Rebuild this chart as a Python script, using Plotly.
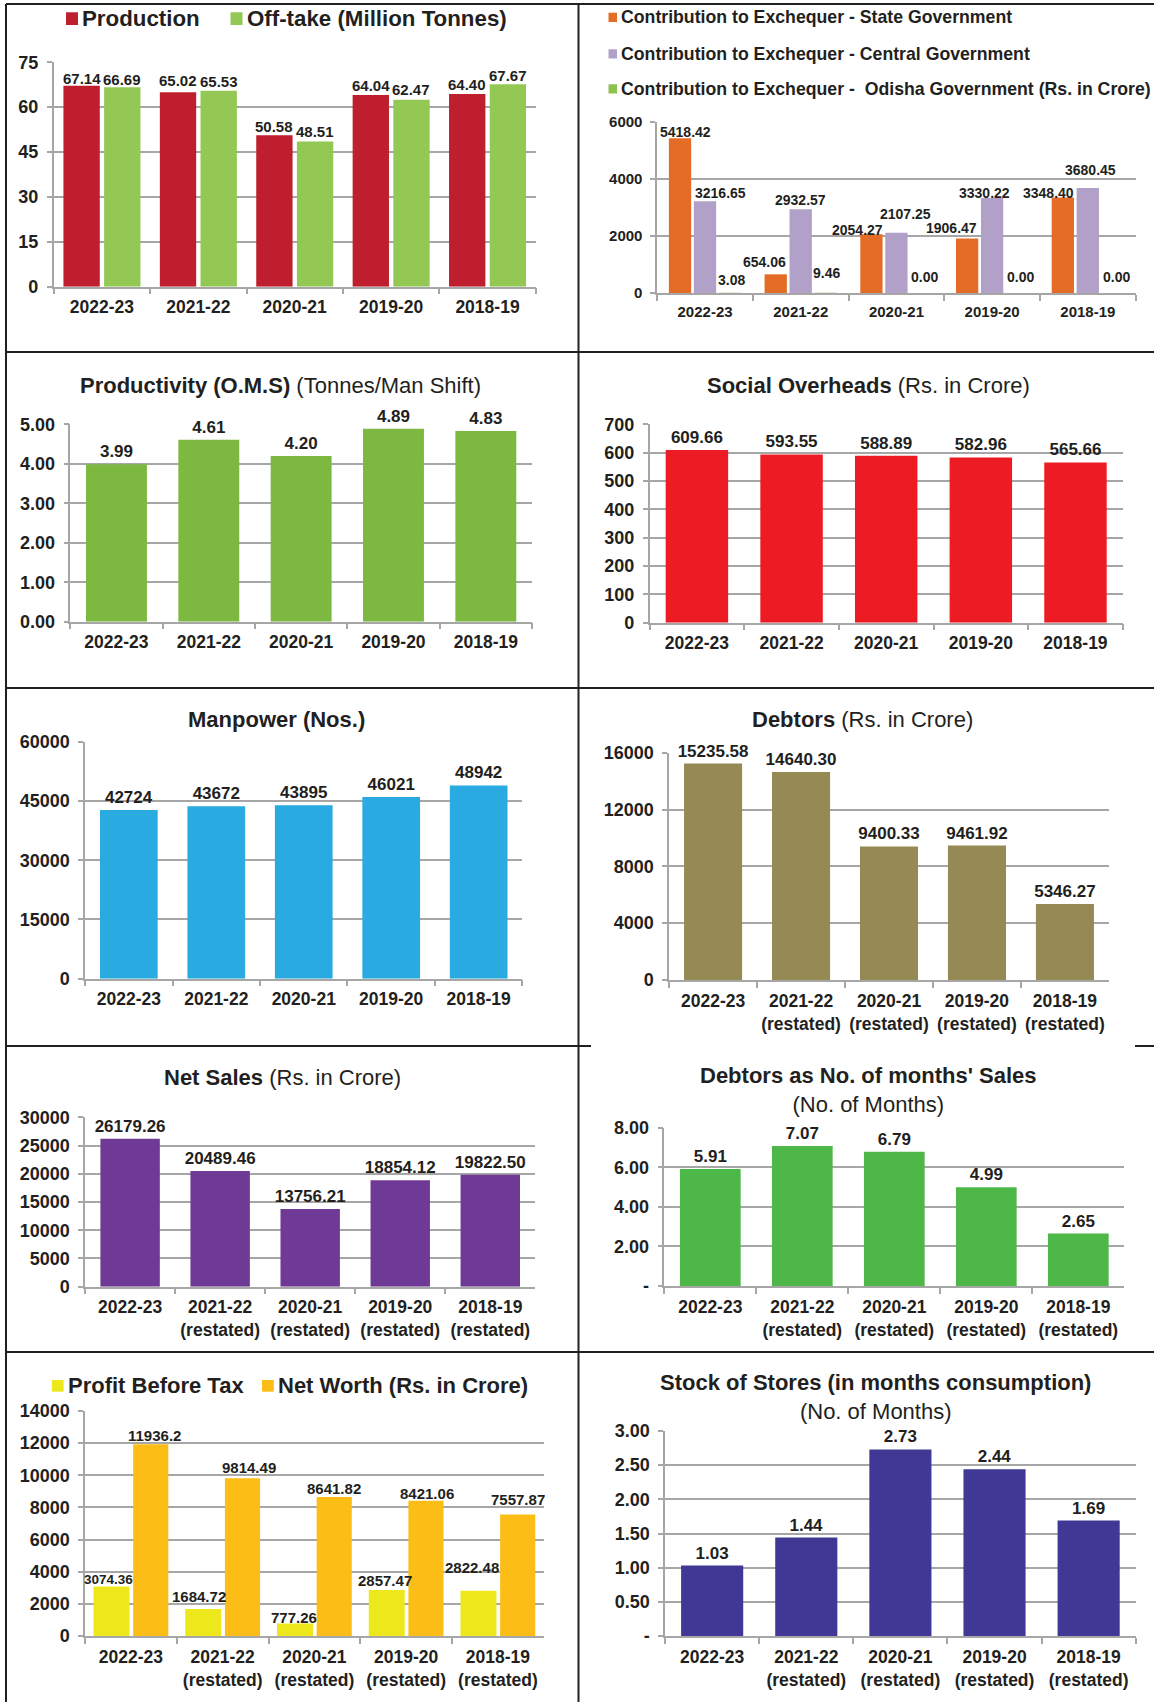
import plotly.graph_objects as go

W, H = 1154, 1702

# ---------------- data ----------------
years = ["2022-23", "2021-22", "2020-21", "2019-20", "2018-19"]
years_restated = ["2022-23", "2021-22<br>(restated)", "2020-21<br>(restated)",
                  "2019-20<br>(restated)", "2018-19<br>(restated)"]

production = [67.14, 65.02, 50.58, 64.04, 64.40]
offtake = [66.69, 65.53, 48.51, 62.47, 67.67]
contrib_state = [5418.42, 654.06, 2054.27, 1906.47, 3348.40]
contrib_central = [3216.65, 2932.57, 2107.25, 3330.22, 3680.45]
contrib_odisha = [3.08, 9.46, 0.00, 0.00, 0.00]
productivity = [3.99, 4.61, 4.20, 4.89, 4.83]
social_overheads = [609.66, 593.55, 588.89, 582.96, 565.66]
manpower = [42724, 43672, 43895, 46021, 48942]
debtors = [15235.58, 14640.30, 9400.33, 9461.92, 5346.27]
net_sales = [26179.26, 20489.46, 13756.21, 18854.12, 19822.50]
debtors_months = [5.91, 7.07, 6.79, 4.99, 2.65]
profit_before_tax = [3074.36, 1684.72, 777.26, 2857.47, 2822.48]
net_worth = [11936.2, 9814.49, 8641.82, 8421.06, 7557.87]
stock_of_stores = [1.03, 1.44, 2.73, 2.44, 1.69]

months_tickvals = [0, 2, 4, 6, 8]
months_ticktext = ["-", "2.00", "4.00", "6.00", "8.00"]
stock_tickvals = [0, 0.5, 1, 1.5, 2, 2.5, 3]
stock_ticktext = ["-", "0.50", "1.00", "1.50", "2.00", "2.50", "3.00"]

# ---------------- style ----------------
TXT = "#231F20"
GRID = "#A6A6A6"
FONT = "Liberation Sans, Arial, Helvetica, sans-serif"

C_PROD, C_OFF = "#BE1E2D", "#92C853"
C_STATE, C_CENTRAL, C_ODISHA = "#E46C26", "#B1A0C7", "#8DC04F"
C_PBT, C_NW = "#EDE81C", "#FCBE16"


def f2(vals):
    return [f"{v:.2f}" for v in vals]


def px_x(v):
    return v / W


def px_y(v):
    return 1 - v / H


# panel geometry in pixels (layout only)
panels = [
    dict(x0=53.7, x1=535.7, yt=62.3, yb=286.7, ymax=75, dtick=15, fmt="d", tfs=18, xfs=17.5),
    dict(x0=657.2, x1=1135.7, yt=121.7, yb=293.0, ymax=6000, dtick=2000, fmt="d", tfs=15, xfs=15),
    dict(x0=70.3, x1=532.0, yt=424.3, yb=621.7, ymax=5, dtick=1, fmt=".2f", tfs=18, xfs=17.5),
    dict(x0=649.6, x1=1122.8, yt=424.3, yb=622.7, ymax=700, dtick=100, fmt="d", tfs=18, xfs=17.5),
    dict(x0=85.1, x1=522.4, yt=741.7, yb=978.7, ymax=60000, dtick=15000, fmt="d", tfs=18, xfs=17.5),
    dict(x0=669.1, x1=1108.9, yt=752.7, yb=980.0, ymax=16000, dtick=4000, fmt="d", tfs=18, xfs=17.5),
    dict(x0=85.1, x1=535.3, yt=1117.3, yb=1286.7, ymax=30000, dtick=5000, fmt="d", tfs=18, xfs=17.5),
    dict(x0=664.3, x1=1124.3, yt=1127.7, yb=1286.0, ymax=8, tickvals=months_tickvals,
         ticktext=months_ticktext, tfs=18, xfs=17.5),
    dict(x0=85.1, x1=543.8, yt=1411.0, yb=1636.0, ymax=14000, dtick=2000, fmt="d", tfs=18, xfs=17.5),
    dict(x0=665.1, x1=1135.7, yt=1431.0, yb=1636.0, ymax=3, tickvals=stock_tickvals,
         ticktext=stock_ticktext, tfs=18, xfs=17.5),
]

fig = go.Figure()
annotations = []


def ax(i):
    return ("x" if i == 1 else f"x{i}"), ("y" if i == 1 else f"y{i}")


def add_bar(i, x, y, color, text=None, tsize=17, offset=None, width=0.66):
    xa, ya = ax(i)
    kw = dict(
        x=x, y=y, xaxis=xa, yaxis=ya,
        marker=dict(color=color, line=dict(width=0)),
        width=width, hoverinfo="skip", showlegend=False,
    )
    if text is not None:
        kw.update(text=text, textposition="outside", cliponaxis=False, constraintext="none",
                  textangle=0, textfont=dict(family=FONT, size=tsize, color=TXT, weight="bold"))
    if offset is not None:
        kw["offset"] = offset
    fig.add_trace(go.Bar(**kw))


def add_labels(i, values, texts, offset, width, nudges_x, nudges_y, size):
    """Data labels drawn above all bars, anchored at the bar top via the axes."""
    xa, ya = ax(i)
    sizes = size if isinstance(size, list) else [size] * len(values)
    for k, (v, t) in enumerate(zip(values, texts)):
        annotations.append(dict(
            x=k + offset + width / 2, y=v, xref=xa, yref=ya, text=t, showarrow=False,
            xanchor="center", yanchor="middle", xshift=nudges_x[k], yshift=nudges_y[k],
            font=dict(family=FONT, size=sizes[k], color=TXT, weight="bold"),
        ))


# Panel 1: Production / Off-take
add_bar(1, years, production, C_PROD, offset=-0.399, width=0.377)
add_bar(1, years, offtake, C_OFF, offset=0.023, width=0.377)
add_labels(1, production, f2(production), -0.399, 0.377, [0] * 5, [7, 11.7, 9.3, 9.3, 9.3], 15)
add_labels(1, offtake, f2(offtake), 0.023, 0.377, [0] * 5, [7.3, 9, 10, 10.7, 8.3], 15)

# Panel 2: Contribution to Exchequer (labels placed as in the source chart)
add_bar(2, years, contrib_state, C_STATE, offset=-0.378, width=0.233)
add_bar(2, years, contrib_central, C_CENTRAL, offset=-0.117, width=0.233)
add_bar(2, years, contrib_odisha, C_ODISHA, offset=0.144, width=0.233)
add_labels(2, contrib_state, f2(contrib_state), -0.378, 0.233,
           [5.6, -11, -14, -16, -14.6], [6, 12, 4.4, 10.3, 4.1], 14)
add_labels(2, contrib_central, f2(contrib_central), -0.117, 0.233,
           [15, 0, 8.6, -8, 3], [7.9, 9.3, 18.5, 4.6, 17.9], 14)
add_labels(2, contrib_odisha, f2(contrib_odisha), 0.144, 0.233,
           [2, 1, 3, 3, 4], [12.9, 19.4, 16, 16, 16], 14)

# Panels 3..8 single series
add_bar(3, years, productivity, "#7DB941", f2(productivity), 17)
add_bar(4, years, social_overheads, "#ED1C24", f2(social_overheads), 17)
add_bar(5, years, manpower, "#29ABE2", [str(v) for v in manpower], 17)
add_bar(6, years_restated, debtors, "#958A53", f2(debtors), 17)
add_bar(7, years_restated, net_sales, "#6E3A96", f2(net_sales), 17)
add_bar(8, years_restated, debtors_months, "#4DB848", f2(debtors_months), 17)

# Panel 9: PBT / Net worth
add_bar(9, years_restated, profit_before_tax, C_PBT, offset=-0.408, width=0.392)
add_bar(9, years_restated, net_worth, C_NW, offset=0.024, width=0.383)
add_labels(9, profit_before_tax, [str(v) for v in profit_before_tax], -0.408, 0.392,
           [-3.4, -4.1, -0.7, -2, -6.7], [6.6, 12.9, 5.8, 9.1, 23.3], [13.5, 15, 15, 15, 15])
add_labels(9, net_worth, [str(v) for v in net_worth], 0.024, 0.383,
           [3.8, 6.3, 0, 0.7, 0.4], [8.2, 11, 8.8, 7.4, 15.5], 15)

# Panel 10
add_bar(10, years_restated, stock_of_stores, "#403894", f2(stock_of_stores), 17)

layout = dict(
    width=W, height=H, margin=dict(l=0, r=0, t=0, b=0, pad=0, autoexpand=False),
    paper_bgcolor="white", plot_bgcolor="white",
    font=dict(family=FONT, color=TXT),
    bargap=0.34, showlegend=False,
)

for i, p in enumerate(panels, start=1):
    xk = "xaxis" if i == 1 else f"xaxis{i}"
    yk = "yaxis" if i == 1 else f"yaxis{i}"
    xa, ya = ax(i)
    layout[xk] = dict(
        domain=[px_x(p["x0"]), px_x(p["x1"])], anchor=ya, type="category",
        range=[-0.5, 4.5], showline=True, linecolor=GRID, linewidth=1.5,
        ticks="outside", tickson="boundaries", ticklen=6, tickwidth=1.5, tickcolor=GRID,
        tickfont=dict(family=FONT, size=p["xfs"], color=TXT, weight="bold"),
        tickangle=0, showgrid=False, zeroline=False, ticklabelstandoff=4, fixedrange=True,
        automargin=False,
    )
    yd = dict(
        domain=[px_y(p["yb"]), px_y(p["yt"])], anchor=xa, range=[0, p["ymax"]],
        showline=True, linecolor=GRID, linewidth=1.5,
        ticks="outside", ticklen=5, tickwidth=1.5, tickcolor=GRID,
        showgrid=True, gridcolor=GRID, gridwidth=1.5, zeroline=False,
        tickfont=dict(family=FONT, size=p["tfs"], color=TXT, weight="bold"),
        ticklabelstandoff=5, fixedrange=True, automargin=False,
    )
    if "tickvals" in p:
        yd.update(tickmode="array", tickvals=p["tickvals"], ticktext=p["ticktext"])
    else:
        yd.update(dtick=p["dtick"], tick0=0, tickformat=p["fmt"])
    layout[yk] = yd

# titles
titles = [
    ("<b>Productivity (O.M.S)</b> (Tonnes/Man Shift)", 280.6, 385),
    ("<b>Social Overheads</b> (Rs. in Crore)", 868.6, 385),
    ("<b>Manpower (Nos.)</b>", 276.2, 720),
    ("<b>Debtors</b> (Rs. in Crore)", 862.2, 720),
    ("<b>Net Sales</b> (Rs. in Crore)", 282.3, 1077.3),
    ("<b>Debtors as No. of months' Sales</b><br>(No. of Months)", 868.8, 1090.3),
    ("<b>Stock of Stores (in months consumption)</b><br>(No. of Months)", 875.2, 1396.7),
]
for t, x, y in titles:
    annotations.append(dict(text=t, x=px_x(x), y=px_y(y), xref="paper", yref="paper",
                            xanchor="center", yanchor="middle", showarrow=False,
                            font=dict(family=FONT, size=22, color=TXT)))

# legends (swatch + label), positioned as in the source
legend_items = [
    # colour, label, swatch box (x0, y0, x1, y1), text x, text y, font size
    (C_PROD, "Production", (66, 12.3, 78, 25), 82.1, 18.5, 22.3),
    (C_OFF, "Off-take (Million Tonnes)", (230.5, 12.3, 242.5, 25), 247.1, 18.5, 22.3),
    (C_STATE, "Contribution to Exchequer - State Government", (608.5, 12.7, 617, 22), 621.4, 17.3, 17.7),
    (C_CENTRAL, "Contribution to Exchequer - Central Government", (608.5, 49.3, 617, 58.5), 621.4, 53.8, 17.7),
    (C_ODISHA, "Contribution to Exchequer -\u00a0 Odisha Government (Rs. in Crore)",
     (608.5, 84.3, 617, 93.5), 621.4, 88.8, 17.7),
    (C_PBT, "Profit Before Tax", (51.8, 1380, 63.6, 1391.7), 67.7, 1385, 22),
    (C_NW, "Net Worth (Rs. in Crore)", (262, 1380, 273.8, 1391.7), 278.2, 1385, 22),
]

shapes = []
for color, label, (sx0, sy0, sx1, sy1), tx, ty, fs in legend_items:
    shapes.append(dict(type="rect", xref="paper", yref="paper", x0=px_x(sx0), x1=px_x(sx1),
                       y0=px_y(sy1), y1=px_y(sy0), fillcolor=color, line=dict(width=0)))
    annotations.append(dict(text=label, x=px_x(tx - 2), y=px_y(ty), xref="paper", yref="paper",
                            xanchor="left", yanchor="middle", showarrow=False,
                            font=dict(family=FONT, size=fs, color=TXT, weight="bold")))

layout["annotations"] = annotations


# panel borders
def line(x0, y0, x1, y1):
    return dict(type="line", xref="paper", yref="paper", x0=px_x(x0), y0=px_y(y0),
                x1=px_x(x1), y1=px_y(y1), line=dict(color=TXT, width=2))


DIV = 578.5
shapes += [
    line(6, 4, W, 4),
    line(6, 4, 6, H),
    line(DIV, 4, DIV, H),
    line(6, 352, W, 352),
    line(6, 688, W, 688),
    line(6, 1046, DIV, 1046),
    line(DIV, 1046, 591, 1046),
    line(1135, 1046, W, 1046),
    line(6, 1352, W, 1352),
]
layout["shapes"] = shapes

fig.update_layout(**layout)
fig.write_html("out.html", config={"displayModeBar": False},
               post_script="document.body.style.margin='0';document.body.style.overflow='hidden';")
